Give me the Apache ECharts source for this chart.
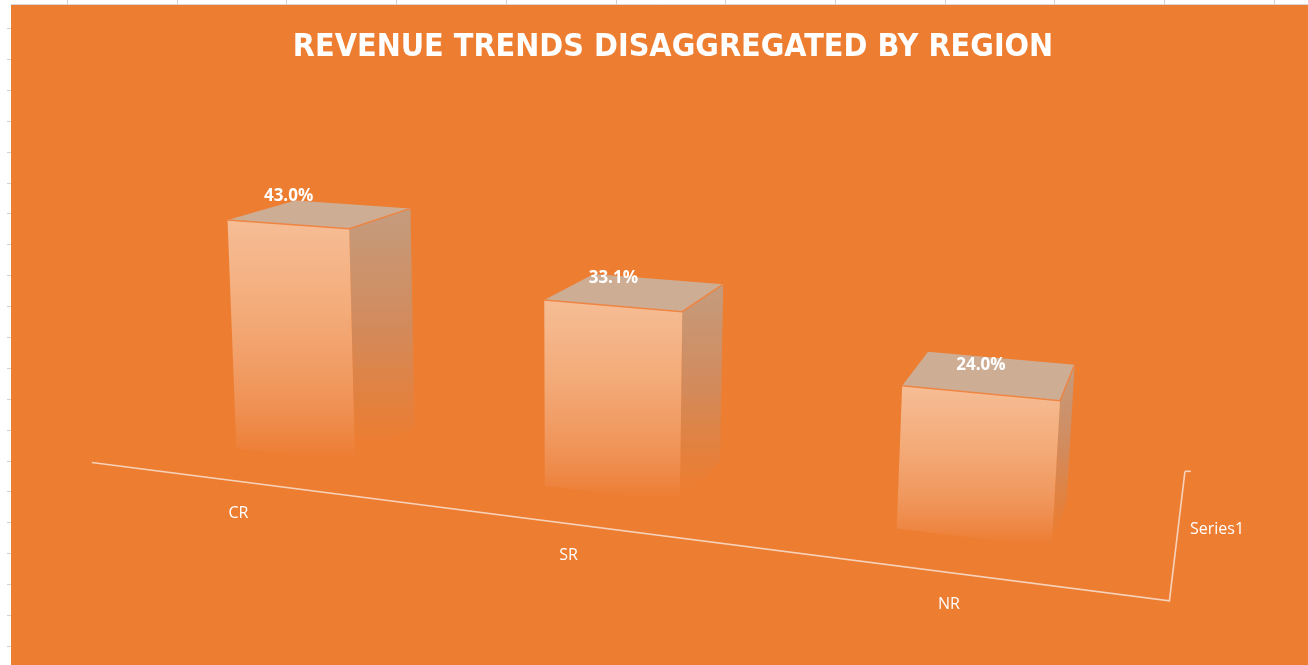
<!DOCTYPE html>
<html>
<head>
<meta charset="utf-8">
<title>Revenue trends disaggregated by region</title>
<script src="https://cdn.jsdelivr.net/npm/echarts@6/dist/echarts.min.js"></script>
<style>
  html, body { margin: 0; padding: 0; background: #fff; }
  #chart { width: 1308px; height: 665px; }
</style>
</head>
<body>
<div id="chart"></div>
<script>
// chart data
const regions = ['CR', 'SR', 'NR']
const revenueShare = [0.430, 0.331, 0.240]
const seriesName = 'Series1'
const valueMax = 0.5

const BG = '#ED7D31'
const FONT = '"Open Sans", "Noto Sans", sans-serif'

// Excel-like 3D view: front plane (u, v in 0..1) plus depth k, projected with vanishing points
const view = {
  ox: 151.2, oy: 438,
  a: -0.182, b: -0.0297,
  vx: [-4446, -120], vy: [570, 9000], vz: [1250, -71],
  barDepth: 0.068, floorFront: -0.047, floorBack: 0.137
}

function project(u, v, k) {
  const hx = view.ox + view.a * u * view.vx[0] + view.b * v * view.vy[0] + k * view.vz[0]
  const hy = view.oy + view.a * u * view.vx[1] + view.b * v * view.vy[1] + k * view.vz[1]
  const hw = 1 + view.a * u + view.b * v + k
  return [hx / hw, hy / hw]
}

// grid pixel -> plane coords
function toPlane(cs, pt) {
  return [(pt[0] - cs.x) / cs.width, (cs.y + cs.height - pt[1]) / cs.height]
}

const frontFill = new echarts.graphic.LinearGradient(0, 0, 0, 1, [
  { offset: 0, color: '#F6BD95' },
  { offset: 0.4, color: '#F3AA77' },
  { offset: 0.72, color: '#F0955A' },
  { offset: 0.88, color: '#EE8744' },
  { offset: 0.98, color: BG },
  { offset: 1, color: BG }
])
const sideFill = new echarts.graphic.LinearGradient(0, 0, 0, 1, [
  { offset: 0, color: '#C49C7E' },
  { offset: 0.45, color: '#D28B5D' },
  { offset: 0.75, color: '#E2813F' },
  { offset: 0.93, color: BG },
  { offset: 1, color: BG }
])

function renderBar(params, api) {
  const cs = params.coordSys
  const top = toPlane(cs, api.coord([api.value(0), api.value(1)]))
  const base = toPlane(cs, api.coord([api.value(0), 0]))
  const hw = api.size([1, 0])[0] * 0.2 / cs.width
  const uL = top[0] - hw
  const uR = top[0] + hw
  const v0 = base[1]
  const v1 = top[1]
  const D = view.barDepth

  const front = [project(uL, v0, 0), project(uR, v0, 0), project(uR, v1, 0), project(uL, v1, 0)]
  const side = [project(uR, v0, 0), project(uR, v0, D), project(uR, v1, D), project(uR, v1, 0)]
  const lid = [project(uL, v1, 0), project(uR, v1, 0), project(uR, v1, D), project(uL, v1, D)]
  const labelAt = project(top[0], v1, 0)
  const catAt = project(top[0], v0, view.floorFront)

  return {
    type: 'group',
    children: [
      { type: 'polygon', shape: { points: side }, style: { fill: sideFill } },
      { type: 'polygon', shape: { points: front }, style: { fill: frontFill } },
      { type: 'polygon', shape: { points: lid }, style: { fill: '#CEAD95' } },
      {
        type: 'polyline',
        shape: { points: [lid[0], lid[1], lid[2]] },
        style: { stroke: '#EF8542', lineWidth: 1.5, fill: null }
      },
      {
        type: 'text', x: labelAt[0] + 1, y: labelAt[1] - 28,
        style: {
          text: (api.value(1) * 100).toFixed(1) + '%',
          fill: '#fff', font: 'bold 17px ' + FONT,
          align: 'center', verticalAlign: 'middle'
        }
      },
      {
        type: 'text', x: catAt[0] - 8, y: catAt[1] + 31,
        style: {
          text: regions[api.value(0)],
          fill: '#fff', font: '16px ' + FONT,
          align: 'center', verticalAlign: 'middle'
        }
      }
    ]
  }
}

// floor front edge (category axis) and depth axis
function renderAxes(params, api) {
  const p0 = project(-0.006, 0, view.floorFront)
  const p1 = project(1, 0, view.floorFront)
  const p2 = project(1, 0, view.floorBack)
  const mid = project(1, 0, (view.floorFront + view.floorBack) / 2)
  const lineStyle = { stroke: '#F7D2BA', lineWidth: 1.6, fill: null }
  return {
    type: 'group',
    children: [
      { type: 'polyline', shape: { points: [p0, p1, p2] }, style: lineStyle },
      { type: 'line', shape: { x1: p2[0], y1: p2[1], x2: p2[0] + 6, y2: p2[1] }, style: lineStyle },
      {
        type: 'text', x: mid[0] + 12, y: mid[1],
        style: {
          text: seriesName, fill: '#fff', font: '16px ' + FONT,
          align: 'left', verticalAlign: 'middle'
        }
      }
    ]
  }
}

// spreadsheet frame around the chart area
const frame = [{ type: 'rect', shape: { x: 11, y: 5, width: 1297, height: 660 }, style: { fill: BG }, z: -10 }]
for (let x = 67; x < 1308; x += 109.7) {
  frame.push({ type: 'line', shape: { x1: Math.round(x) + 0.5, y1: 0, x2: Math.round(x) + 0.5, y2: 5 }, style: { stroke: '#D0D0D0', lineWidth: 1 }, z: -9 })
}
for (let y = 28; y < 665; y += 30.9) {
  frame.push({ type: 'line', shape: { x1: 7, y1: Math.round(y) + 0.5, x2: 11, y2: Math.round(y) + 0.5 }, style: { stroke: '#D0D0D0', lineWidth: 1 }, z: -9 })
}
frame.push({ type: 'line', shape: { x1: 11, y1: 4.5, x2: 1308, y2: 4.5 }, style: { stroke: '#D6D6D6', lineWidth: 1 }, z: -9 })

const chart = echarts.init(document.getElementById('chart'))
chart.setOption({
  backgroundColor: '#fff',
  animation: false,
  title: {
    text: 'REVENUE TRENDS DISAGGREGATED BY REGION',
    left: 668,
    textAlign: 'center',
    top: 27,
    textStyle: { color: '#fff', fontSize: 32, fontWeight: 'bold', fontFamily: '"DejaVu Sans Condensed", "DejaVu Sans", sans-serif' }
  },
  graphic: frame,
  grid: { left: 100, right: 100, top: 80, bottom: 80 },
  xAxis: { type: 'category', data: regions, show: false },
  yAxis: { type: 'value', min: 0, max: valueMax, show: false },
  series: [
    {
      type: 'custom',
      name: 'axes',
      renderItem: renderAxes,
      data: [[0, 0]],
      silent: true
    },
    {
      type: 'custom',
      name: seriesName,
      renderItem: renderBar,
      data: regions.map((r, i) => [i, revenueShare[i]])
    }
  ]
})
</script>
</body>
</html>
